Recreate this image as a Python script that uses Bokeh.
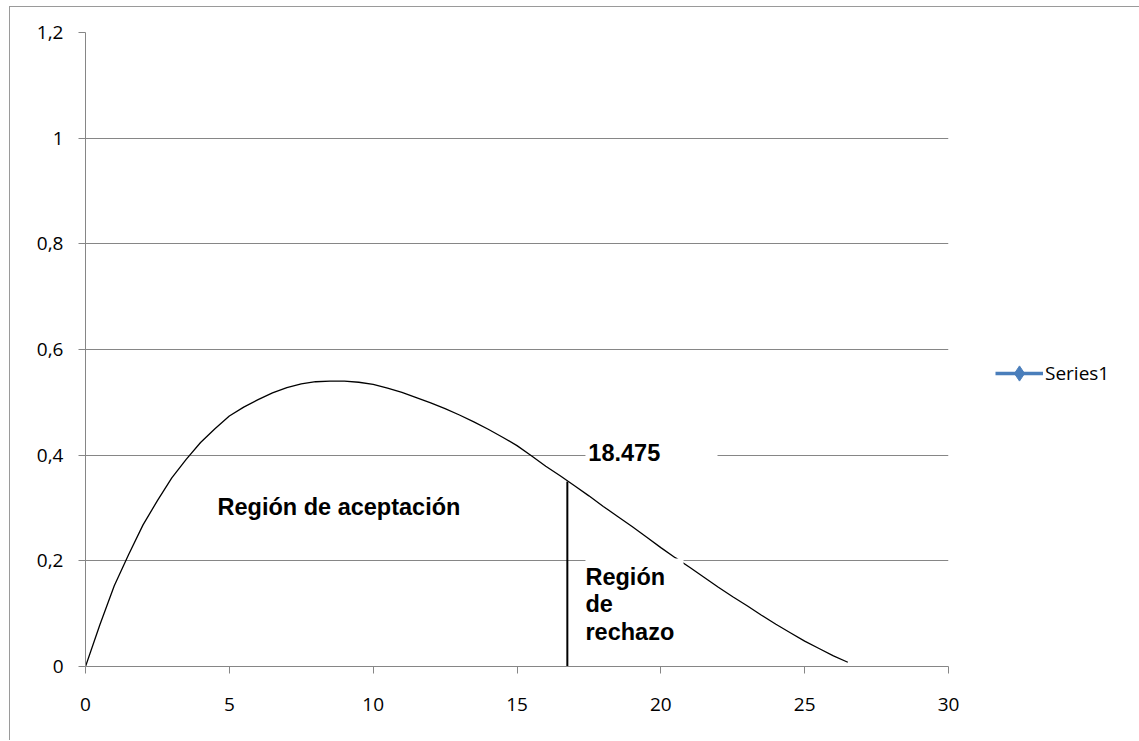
from bokeh.plotting import figure
from bokeh.models import Range1d, FixedTicker, Label, Legend, LegendItem
from bokeh.embed import file_html
from bokeh.resources import INLINE

# ---- data ----
curve_x = [0, 0.5, 1, 1.5, 2, 2.5, 3, 3.5, 4, 4.5, 5, 5.5, 6, 6.5, 7, 7.5, 8,
           8.5, 9, 9.5, 10, 10.5, 11, 11.5, 12, 12.5, 13, 13.5, 14, 14.5, 15,
           15.5, 16, 16.5, 17, 17.5, 18, 18.5, 19, 19.5, 20, 20.5, 21, 21.5,
           22, 22.5, 23, 23.5, 24, 24.5, 25, 25.5, 26, 26.5]
curve_y = [0.0, 0.079, 0.153, 0.212, 0.268, 0.314, 0.357, 0.392, 0.424, 0.450,
           0.474, 0.491, 0.505, 0.518, 0.528, 0.535, 0.539, 0.540, 0.540, 0.538,
           0.534, 0.527, 0.519, 0.509, 0.499, 0.488, 0.476, 0.463, 0.449, 0.434,
           0.418, 0.399, 0.379, 0.361, 0.342, 0.323, 0.303, 0.284, 0.265, 0.245,
           0.225, 0.206, 0.188, 0.169, 0.150, 0.132, 0.115, 0.097, 0.080, 0.064,
           0.048, 0.034, 0.020, 0.008]

# "Series1" has no plotted points in the original (only its legend entry)
series1_x = [float("nan")]
series1_y = [float("nan")]

critical_x = [16.75]
critical_top = [0.35]

x_ticks = [0, 5, 10, 15, 20, 25, 30]
x_tick_labels = ["0", "5", "10", "15", "20", "25", "30"]
y_ticks = [0, 0.2, 0.4, 0.6, 0.8, 1.0, 1.2]
y_tick_labels = ["0", "0,2", "0,4", "0,6", "0,8", "1", "1,2"]

series_name = "Series1"
critical_label = "18.475"
accept_label = "Región de aceptación"
reject_lines = ["Región", "de", "rechazo"]

GRID = "#868686"
TICK_FONT = "Open Sans"
BOLD_FONT = "Liberation Sans"

p = figure(
    frame_width=863, frame_height=634,
    min_border_left=75, min_border_right=189,
    min_border_top=25, min_border_bottom=74,
    x_range=Range1d(0, 30), y_range=Range1d(0, 1.2),
    output_backend="svg", toolbar_location=None,
    background_fill_color="white", border_fill_color="white",
)
p.outline_line_color = None
p.styles = {"margin-left": "9px", "margin-top": "6px",
            "border-left": "1px solid #9a9a9a", "border-top": "1px solid #9a9a9a",
            "border-right": "1px solid #9a9a9a"}

# axes
for ax in (p.xaxis[0], p.yaxis[0]):
    ax.axis_line_color = GRID
    ax.axis_line_width = 1
    ax.major_tick_line_color = GRID
    ax.major_tick_out = 7
    ax.major_tick_in = 0
    ax.minor_tick_line_color = None
    ax.major_label_text_font = TICK_FONT
    ax.major_label_text_font_size = "19px"
    ax.major_label_text_color = "#000000"

p.xaxis.ticker = FixedTicker(ticks=x_ticks)
p.xaxis.major_label_overrides = dict(zip(x_ticks, x_tick_labels))
p.xaxis.major_label_standoff = 24
p.yaxis.ticker = FixedTicker(ticks=y_ticks)
p.yaxis.major_label_overrides = dict(zip(y_ticks, y_tick_labels))
p.yaxis.major_label_standoff = 15

p.xgrid.grid_line_color = None
p.ygrid.grid_line_color = GRID
p.ygrid.grid_line_width = 1
p.ygrid.ticker = FixedTicker(ticks=y_ticks)

# curve
p.line(curve_x, curve_y, line_color="black", line_width=1.3)

# critical vertical line
p.segment(x0=critical_x, y0=[0], x1=critical_x, y1=critical_top,
          line_color="black", line_width=2)

# white text boxes (cover gridlines / curve like the original)
p.quad(left=[17.38], right=[21.97], bottom=[0.38], top=[0.425],
       fill_color="white", line_color=None)
p.quad(left=[17.38], right=[20.79], bottom=[0.03], top=[0.2044],
       fill_color="white", line_color=None)

def bold_label(x, y, text):
    p.add_layout(Label(x=x, y=y, text=text, text_font=BOLD_FONT,
                       text_font_style="bold", text_font_size="23.5px",
                       text_color="black", text_baseline="alphabetic",
                       text_align="left"))

bold_label(17.48, 0.405, critical_label)
bold_label(4.59, 0.302, accept_label)
for txt, yb in zip(reject_lines, [0.170, 0.118, 0.065]):
    bold_label(17.38, yb, txt)

# legend
r_line = p.line(x=series1_x, y=series1_y, line_color="#4a7ebb", line_width=3.5)
r_mark = p.scatter(x=series1_x, y=series1_y, marker="diamond", size=15,
                   fill_color="#4a7ebb", line_color="#4a7ebb")
legend = Legend(items=[LegendItem(label=series_name, renderers=[r_line, r_mark])],
                location=(47, 274), orientation="vertical")
legend.border_line_color = None
legend.background_fill_alpha = 0
legend.padding = 0
legend.margin = 0
legend.glyph_width = 48
legend.glyph_height = 38
legend.label_height = 20
legend.label_standoff = 2
legend.label_text_font = TICK_FONT
legend.label_text_font_size = "19px"
legend.label_text_color = "#000000"
legend.label_text_baseline = "middle"
p.add_layout(legend, "right")

open("out.html", "w").write(file_html(p, INLINE))
